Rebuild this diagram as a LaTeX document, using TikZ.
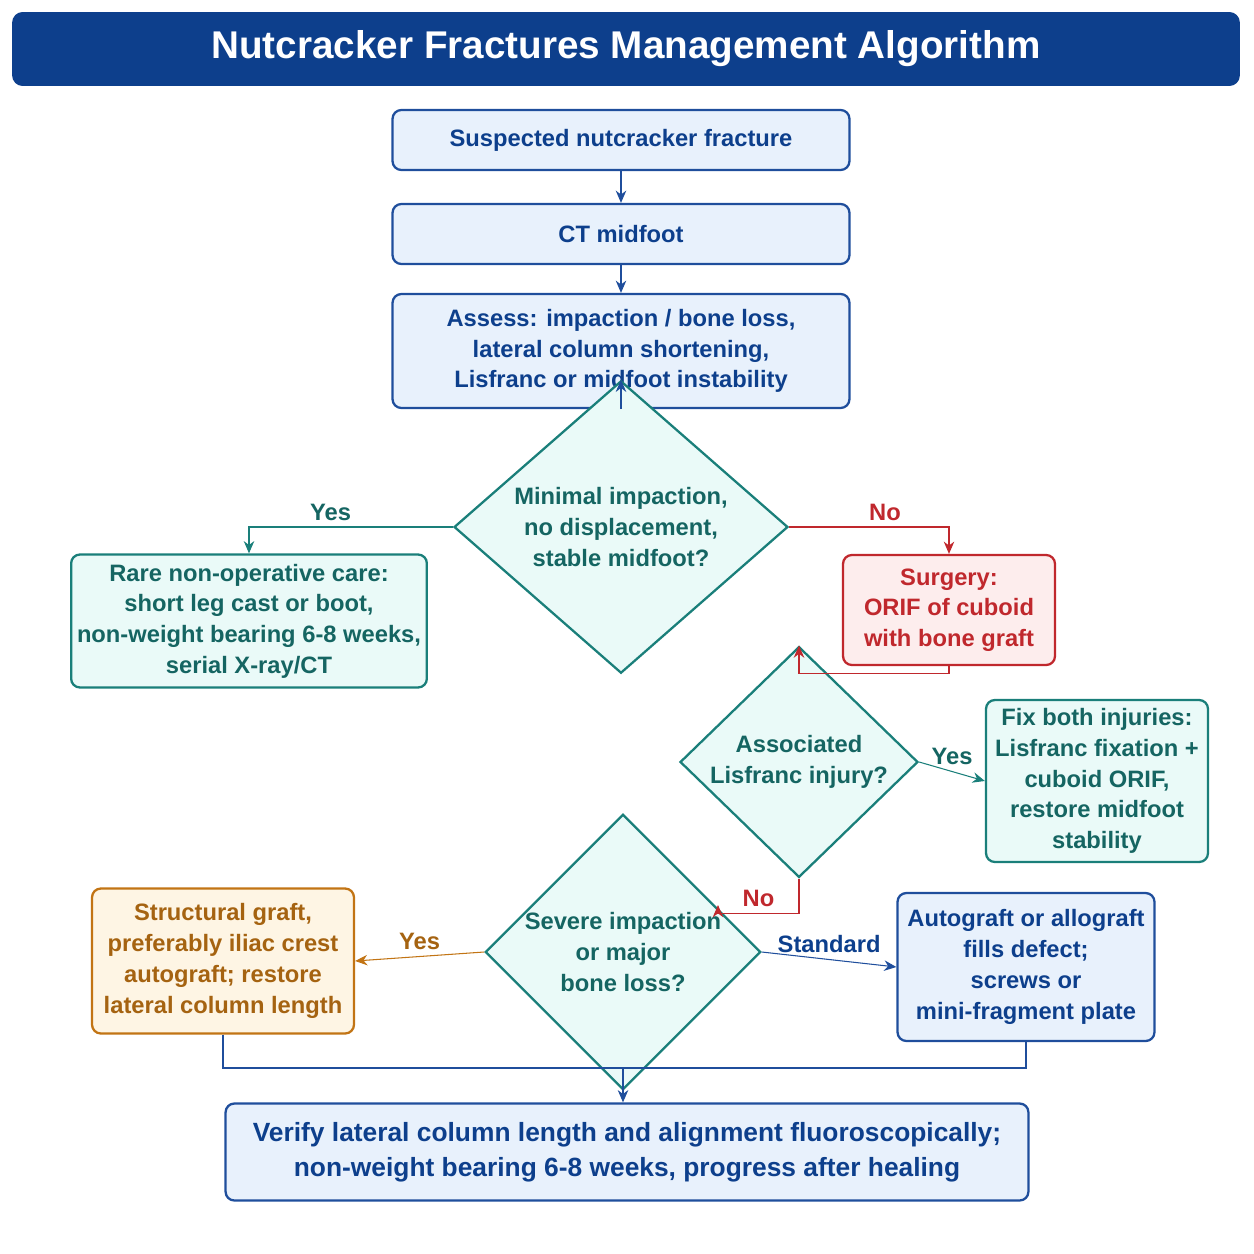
\documentclass[tikz,border=0pt]{standalone}
\usepackage{fontspec}
\setmainfont{Liberation Sans}
\usetikzlibrary{arrows.meta,positioning,shapes.geometric}
\definecolor{titleblue}{HTML}{0D3F8C}
\definecolor{boxblue}{HTML}{1F4E9C}
\definecolor{fillblue}{HTML}{E8F1FC}
\definecolor{tealc}{HTML}{1A7F7A}
\definecolor{fillteal}{HTML}{EAFAF8}
\definecolor{redc}{HTML}{C0282D}
\definecolor{fillred}{HTML}{FDEDED}
\definecolor{orangec}{HTML}{C27414}
\definecolor{fillorange}{HTML}{FEF5E4}
\begin{document}
\begin{tikzpicture}[x=0.02cm, y=-0.02cm, >={Stealth[length=7pt,width=6pt]},
	semithick, font=\fontsize{13.5}{17.5}\selectfont\bfseries,
	every node/.style={align=center},
	bluebox/.style={draw=boxblue, fill=fillblue, text=titleblue, rounded corners=5pt, line width=1.3pt},
	tealbox/.style={draw=tealc, fill=fillteal, text=tealc!80!black, rounded corners=5pt, line width=1.3pt},
	redbox/.style={draw=redc, fill=fillred, text=redc, rounded corners=5pt, line width=1.3pt},
	orangebox/.style={draw=orangec, fill=fillorange, text=orangec!85!black, rounded corners=5pt, line width=1.3pt},
	decision/.style={diamond, draw=tealc, fill=fillteal, text=tealc!80!black, line width=1.3pt, inner sep=0pt},
	lbl/.style={font=\fontsize{13.5}{16}\selectfont\bfseries}
	]
\useasboundingbox (0,0) rectangle (1254,1254);
% title
\node[fill=titleblue, rounded corners=6pt, minimum width=24.56cm, minimum height=1.48cm, text=white,
  font=\fontsize{22}{26}\selectfont\bfseries] (title) at (626,49) {Nutcracker Fractures Management Algorithm};

\node[bluebox, minimum width=9.14cm, minimum height=1.2cm] (susp) at (621,140) {Suspected nutcracker fracture};
\node[bluebox, minimum width=9.14cm, minimum height=1.2cm] (ct) at (621,234) {CT midfoot};
\node[bluebox, minimum width=9.14cm, minimum height=2.28cm] (assess) at (621,351)
  {Assess: impaction / bone loss,\\lateral column shortening,\\Lisfranc or midfoot instability};
\node[decision, minimum width=6.68cm, minimum height=3.4cm] (d1) at (621,527)
  {Minimal impaction,\\no displacement,\\stable midfoot?};
\node[tealbox, minimum width=6.56cm, minimum height=2.66cm] (nonop) at (249,621)
  {Rare non-operative care:\\short leg cast or boot,\\non-weight bearing 6-8 weeks,\\serial X-ray/CT};
\node[redbox, minimum width=4.24cm, minimum height=2.2cm] (surg) at (949,610)
  {Surgery:\\ORIF of cuboid\\with bone graft};
\node[decision, minimum width=4.76cm, minimum height=2.4cm] (d2) at (799,762)
  {Associated\\Lisfranc injury?};
\node[tealbox, minimum width=4.44cm, minimum height=3.24cm] (fix) at (1097,781)
  {Fix both injuries:\\Lisfranc fixation +\\cuboid ORIF,\\restore midfoot\\stability};
\node[decision, minimum width=5.44cm, minimum height=3.3cm] (d3) at (623,952)
  {Severe impaction\\or major\\bone loss?};
\node[orangebox, minimum width=5.24cm, minimum height=2.9cm] (graft) at (223,961)
  {Structural graft,\\preferably iliac crest\\autograft; restore\\lateral column length};
\node[bluebox, minimum width=5.14cm, minimum height=2.96cm] (auto) at (1026,967)
  {Autograft or allograft\\fills defect;\\screws or\\mini-fragment plate};
\node[bluebox, minimum width=16.06cm, minimum height=1.94cm, font=\fontsize{15}{20}\selectfont\bfseries] (final) at (627,1152)
  {Verify lateral column length and alignment fluoroscopically;\\non-weight bearing 6-8 weeks, progress after healing};

\coordinate (join) at (623,1068);
\coordinate (d3in) at (718,905);

\draw[->, boxblue] (susp) -- (ct);
\draw[->, boxblue] (ct) -- (assess);
\draw[->, boxblue] (assess) -- (d1);
\draw[->, tealc] (d1.west) -| node[lbl, above, pos=0.3, text=tealc!80!black] {Yes} (nonop.north);
\draw[->, redc] (d1.east) -| node[lbl, above, pos=0.3] {No} (surg.north);
\draw[->, redc] (surg.south) -- ++(0,7) -| (d2.north);
\draw[->, tealc] (d2.east) -- node[lbl, above, text=tealc!80!black] {Yes} (fix.west);
\draw[->, redc] (d2.south) -- ++(0,35) -| node[lbl, above, pos=0.25] {No} (d3in);
\draw[->, orangec] (d3.west) -- node[lbl, above, text=orangec!85!black] {Yes} (graft.east);
\draw[->, boxblue] (d3.east) -- node[lbl, above, text=titleblue] {Standard} (auto.west);
\draw[boxblue] (graft.south) |- (join) -| (auto.south);
\draw[->, boxblue] (join) -- (final.north -| join);
\end{tikzpicture}
\end{document}
